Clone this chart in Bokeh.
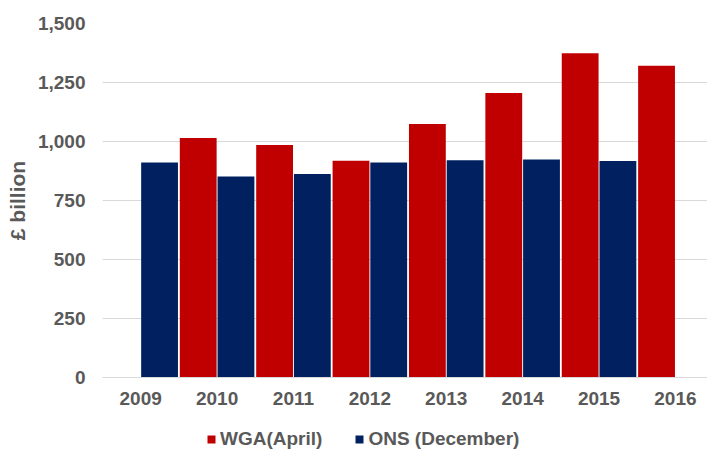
from bokeh.plotting import figure
from bokeh.layouts import column
from bokeh.models import (ColumnDataSource, FixedTicker, Legend, LegendItem,
                          NumeralTickFormatter, Range1d)
from bokeh.transform import dodge
from bokeh.embed import file_html
from bokeh.resources import INLINE

years = ["2009", "2010", "2011", "2012", "2013", "2014", "2015", "2016"]
wga_april = [None, 1015, 985, 918, 1074, 1206, 1374, 1321]
ons_december = [911, 852, 862, 911, 921, 924, 917, None]
y_ticks = [0, 250, 500, 750, 1000, 1250, 1500]
series_names = ["WGA(April)", "ONS (December)"]

RED = "#C00000"
BLUE = "#002060"
GREY = "#595959"
GRID = "#D9D9D9"
FONT = "Liberation Sans"

wga_src = ColumnDataSource(dict(
    x=[i for i, v in enumerate(wga_april) if v is not None],
    top=[v for v in wga_april if v is not None]))
ons_src = ColumnDataSource(dict(
    x=[i for i, v in enumerate(ons_december) if v is not None],
    top=[v for v in ons_december if v is not None]))

p = figure(width=707, height=414, output_backend="svg", toolbar_location=None,
           x_range=Range1d(-0.5, 7.42), y_range=Range1d(0, 1500),
           min_border_left=102, min_border_right=0, min_border_top=23,
           min_border_bottom=37)

p.vbar(x=dodge("x", -0.247, range=p.x_range), top="top", width=0.482,
       source=wga_src, fill_color=RED, line_color=None)
p.vbar(x=dodge("x", 0.247, range=p.x_range), top="top", width=0.482,
       source=ons_src, fill_color=BLUE, line_color=None)

p.outline_line_color = None
p.xgrid.grid_line_color = None
p.ygrid.grid_line_color = GRID
p.ygrid.grid_line_width = 1

# y axis
p.yaxis.ticker = FixedTicker(ticks=y_ticks)
p.yaxis.formatter = NumeralTickFormatter(format="0,0")
p.yaxis.axis_line_color = None
p.yaxis.major_tick_line_color = None
p.yaxis.minor_tick_line_color = None
p.yaxis.major_tick_out = 0
p.yaxis.major_label_standoff = 17
p.yaxis.major_label_text_font = FONT
p.yaxis.major_label_text_font_style = "bold"
p.yaxis.major_label_text_font_size = "19px"
p.yaxis.major_label_text_color = GREY
p.yaxis.axis_label = "£ billion"
p.yaxis.axis_label_text_font = FONT
p.yaxis.axis_label_text_font_style = "bold"
p.yaxis.axis_label_text_font_size = "21px"
p.yaxis.axis_label_text_color = GREY
p.yaxis.axis_label_standoff = 6

# x axis
p.xaxis.ticker = FixedTicker(ticks=list(range(len(years))))
p.xaxis.major_label_overrides = {i: y for i, y in enumerate(years)}
p.xaxis.axis_line_color = GRID
p.xaxis.axis_line_width = 1
p.xaxis.major_tick_line_color = None
p.xaxis.minor_tick_line_color = None
p.xaxis.major_tick_out = 0
p.xaxis.major_label_standoff = 14
p.xaxis.major_label_text_font = FONT
p.xaxis.major_label_text_font_style = "bold"
p.xaxis.major_label_text_font_size = "19px"
p.xaxis.major_label_text_color = GREY

# legend strip below the chart (series keys drawn from the same sources, out of view)
lf = figure(width=707, height=36, output_backend="svg", toolbar_location=None,
            x_range=Range1d(-20, -19), y_range=Range1d(-20, -19),
            x_axis_type=None, y_axis_type=None,
            min_border_left=0, min_border_right=0, min_border_top=0,
            min_border_bottom=0)
lf.outline_line_color = None
lf.xgrid.grid_line_color = None
lf.ygrid.grid_line_color = None
k1 = lf.vbar(x="x", top="top", width=0.5, source=wga_src,
             fill_color=RED, line_color=None)
k2 = lf.vbar(x="x", top="top", width=0.5, source=ons_src,
             fill_color=BLUE, line_color=None)

legend = Legend(items=[LegendItem(label=series_names[0], renderers=[k1]),
                       LegendItem(label=series_names[1], renderers=[k2])],
                orientation="horizontal", location=(104, 0),
                glyph_width=10, glyph_height=10, label_standoff=4, spacing=32,
                padding=0, margin=0, border_line_color=None,
                background_fill_alpha=0,
                label_text_font=FONT, label_text_font_style="bold",
                label_text_font_size="19px", label_text_color=GREY)
lf.add_layout(legend, "center")

layout = column(p, lf, spacing=0)
open("out.html", "w").write(file_html(layout, INLINE))
